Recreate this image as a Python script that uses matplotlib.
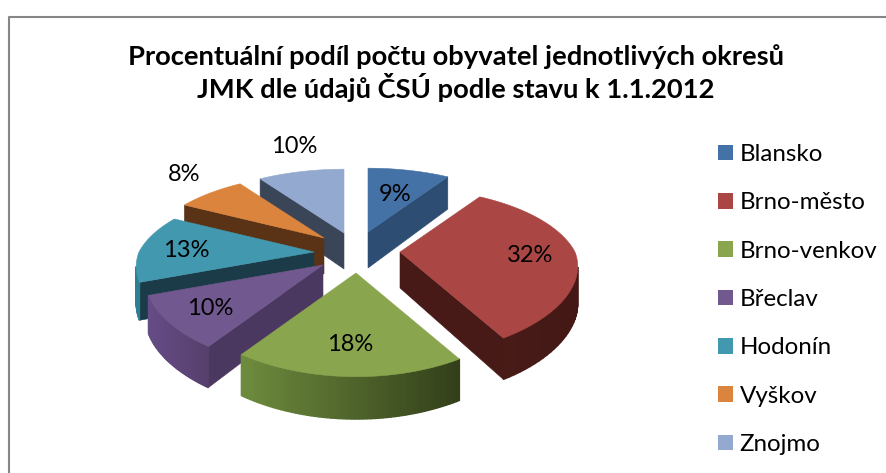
import numpy as np
import matplotlib
matplotlib.use("Agg")
import matplotlib.pyplot as plt
from matplotlib.colors import to_rgb
from matplotlib.patches import Patch, Polygon

okresy = ['Blansko', 'Brno-město', 'Brno-venkov', 'Břeclav', 'Hodonín', 'Vyškov', 'Znojmo']
podil = [9.2, 32.4, 17.8, 9.8, 13.4, 7.6, 9.7]
nadpis = 'Procentuální podíl počtu obyvatel jednotlivých okresů\nJMK dle údajů ČSÚ podle stavu k 1.1.2012'

barvy = ['#4472A6', '#AA4643', '#89A54E', '#71588F', '#4198AF', '#DB843D', '#93A9CF']
barvy_steny = ['#2D4D73', '#471A17', '#3A4A1E', '#4B3860', '#1A3B47', '#5A3316', '#3A4558']
barvy_okraj_l = ['#2D4D73', '#4A1C18', '#6E8C3E', '#654C86', '#2E7F94', '#5A3316', '#3A4558']
barvy_okraj_p = ['#2D4D73', '#431815', '#333F1A', '#573F6C', '#2E7F94', '#5A3316', '#3A4558']

# vrcholy vyseku v pixelech obrazku (rozlozeny kolac)
vrcholy = [(368, 232), (400, 252), (356, 273), (323, 265), (314, 252), (324, 238), (344, 233)]
popisky_xy = [(395, 194), (530, 255), (350, 344), (210, 308), (186, 250), (184, 174), (294, 146)]
poradi = [6, 0, 5, 4, 3, 1, 2]

A, B, K, KX, HLOUBKA = 175, 79, 0.238, 0.175, 36


def bod(theta, r=1.0):
    # perspektivni projekce bodu na kruhu, theta ve stupnich od 12 hodin po smeru
    t = np.radians(theta)
    u, v = r * np.sin(t), -r * np.cos(t)
    w = 1 / (1 - K * v)
    wx = 1 / (1 - np.where(v > 0, KX, K) * v)
    return A * u * wx, B * v * w, HLOUBKA * w ** 0.6


fig = plt.figure(figsize=(8.87, 4.73), dpi=100)
ax = fig.add_axes([0, 0, 1, 1])
ax.set_xlim(0, 887)
ax.set_ylim(473, 0)
ax.axis('off')
plt.rcParams['font.family'] = 'Lato'

# ramecek grafu
ax.plot([9, 9, 887], [473, 17, 17], color='#868686', lw=1.5)

hrany = np.cumsum([0] + podil) / sum(podil) * 360

for i in poradi:
    cx, cy = vrcholy[i]
    t0, t1 = hrany[i], hrany[i + 1]
    thetas = np.linspace(t0, t1, 60)
    sx, sy, sh = bod(thetas)
    sx, sy = cx + sx, cy + sy

    # rezy viditelne pozorovateli
    if -np.cos(np.radians(t0 - 90)) > 0:
        ax.add_patch(Polygon([(cx, cy), (sx[0], sy[0]), (sx[0], sy[0] + sh[0]), (cx, cy + HLOUBKA)],
                             fc=barvy_steny[i], ec=barvy_steny[i], lw=0.4, zorder=2))
    if -np.cos(np.radians(t1 + 90)) > 0:
        ax.add_patch(Polygon([(cx, cy), (sx[-1], sy[-1]), (sx[-1], sy[-1] + sh[-1]), (cx, cy + HLOUBKA)],
                             fc=barvy_steny[i], ec=barvy_steny[i], lw=0.4, zorder=2))

    # vnejsi okraj s prechodem barvy
    for j in range(len(thetas) - 1):
        if sx[j + 1] >= sx[j]:
            continue
        f = (sx.max() - sx[j]) / max(sx.max() - sx.min(), 1)
        c = (1 - f) * np.array(to_rgb(barvy_okraj_p[i])) + f * np.array(to_rgb(barvy_okraj_l[i]))
        ax.add_patch(Polygon([(sx[j], sy[j]), (sx[j + 1], sy[j + 1]),
                              (sx[j + 1], sy[j + 1] + sh[j + 1]), (sx[j], sy[j] + sh[j])],
                             fc=c, ec=c, lw=1.0, zorder=2))

    # horni plocha
    ax.add_patch(Polygon(np.vstack([[cx, cy], np.column_stack([sx, sy])]),
                         fc=barvy[i], ec=barvy[i], lw=0.4, zorder=2))

for hodnota, (x, y) in zip(podil, popisky_xy):
    ax.text(x, y, f'{hodnota:.0f}%', ha='center', va='center', fontsize=17, color='black', zorder=5)

ax.text(456, 73, nadpis, ha='center', va='center', fontsize=19.7, fontweight='bold',
        color='black', linespacing=1.16)

handles = [Patch(fc=c, ec='none') for c in barvy]
ax.legend(handles, okresy, loc='upper left', bbox_to_anchor=(718, 144), bbox_transform=ax.transData,
          frameon=False, fontsize=17.4, handlelength=0.62, handleheight=0.62, handletextpad=0.28,
          labelspacing=1.13, borderpad=0, borderaxespad=0)

fig.savefig('out.png', dpi=100, facecolor='white')
